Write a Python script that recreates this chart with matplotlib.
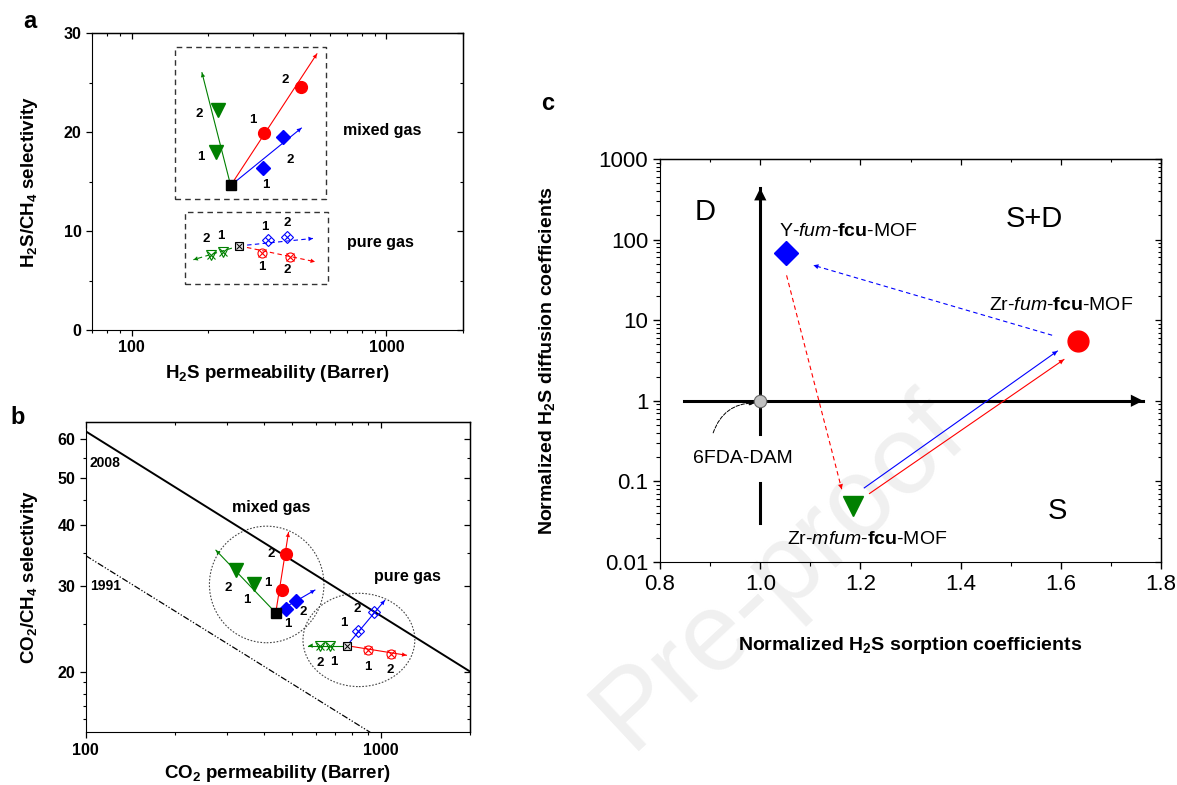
import matplotlib.pyplot as plt
from matplotlib.patches import Ellipse
from matplotlib.ticker import FixedLocator, NullFormatter, FuncFormatter, LogLocator, MultipleLocator

plt.rcParams['font.family'] = ['Liberation Sans', 'DejaVu Sans']
plt.rcParams['mathtext.fontset'] = 'custom'
plt.rcParams['mathtext.rm'] = 'Liberation Sans'
plt.rcParams['mathtext.it'] = 'Liberation Sans:italic'
plt.rcParams['mathtext.bf'] = 'Liberation Sans:bold'
plt.rcParams['mathtext.default'] = 'regular'

# ---------------- panel a : H2S/CH4 ----------------
a_mix_base = (245, 14.6)
a_mix_green_x, a_mix_green_y, a_mix_green_tip = [215, 219], [18.0, 22.2], (189, 26.0)
a_mix_red_x, a_mix_red_y, a_mix_red_tip = [331, 464], [19.9, 24.6], (534, 27.9)
a_mix_blue_x, a_mix_blue_y, a_mix_blue_tip = [327, 394], [16.4, 19.5], (464, 20.4)

a_pure_base = (265, 8.5)
a_pure_green_x, a_pure_green_y, a_pure_green_tip = [228, 205], [7.85, 7.6], (175, 7.1)
a_pure_red_x, a_pure_red_y, a_pure_red_tip = [324, 418], [7.75, 7.35], (525, 6.9)
a_pure_blue_x, a_pure_blue_y, a_pure_blue_tip = [344, 408], [9.1, 9.35], (515, 9.25)

a_box_mixed = ([148.5, 581, 581, 148.5, 148.5], [13.2, 13.2, 28.6, 28.6, 13.2])
a_box_pure = ([161.5, 593, 593, 161.5, 161.5], [4.65, 4.65, 11.9, 11.9, 4.65])

# ---------------- panel b : CO2/CH4 ----------------
b_mix_base = (440, 26.4)
b_mix_green_x, b_mix_green_y, b_mix_green_tip = [371, 323], [30.2, 32.3], (276, 35.5)
b_mix_red_x, b_mix_red_y, b_mix_red_tip = [463, 475], [29.4, 34.9], (486, 38.6)
b_mix_blue_x, b_mix_blue_y, b_mix_blue_tip = [475, 514], [26.9, 27.9], (597, 29.4)

b_pure_base = (766, 22.6)
b_pure_green_x, b_pure_green_y, b_pure_green_tip = [671, 621], [22.6, 22.6], (567, 22.6)
b_pure_red_x, b_pure_red_y, b_pure_red_tip = [901, 1084], [22.1, 21.7], (1219, 21.6)
b_pure_blue_x, b_pure_blue_y, b_pure_blue_tip = [835, 944], [24.2, 26.5], (1029, 28.0)

bound_2008_x, bound_2008_y = [100, 2000], [62.3, 20.0]
bound_1991_x, bound_1991_y = [100, 919], [34.6, 15.0]

# ---------------- panel c ----------------
mof_names = ['6FDA-DAM', 'Y-$\\mathit{fum}$-$\\mathbf{fcu}$-MOF',
             'Zr-$\\mathit{fum}$-$\\mathbf{fcu}$-MOF', 'Zr-$\\mathit{mfum}$-$\\mathbf{fcu}$-MOF']
mof_sorption = [1.0, 1.052, 1.635, 1.185]
mof_diffusion = [1.0, 68, 5.5, 0.049]
c_arrows = [  # x0, y0, x1, y1, colour, dashed
    (1.5825, 6.5, 1.106, 48, 'blue', True),
    (1.0525, 36, 1.1625, 0.080, 'red', True),
    (1.2075, 0.083, 1.593, 4.14, 'blue', False),
    (1.218, 0.0707, 1.606, 3.25, 'red', False),
]

fig = plt.figure(figsize=(11.77, 7.85), dpi=100)


def head(ax, p0, p1, color, ms=8):
    ax.annotate('', xy=p1, xytext=p0,
                arrowprops=dict(arrowstyle='-|>', color=color, lw=0, mutation_scale=ms,
                                shrinkA=0, shrinkB=0), zorder=4)


def series(ax, base, xs, ys, tip, color, marker, ms, pure, dashed, offs):
    ls = (0, (4, 3)) if dashed else '-'
    ax.plot([base[0], tip[0]], [base[1], tip[1]], color=color, lw=0.8, ls=ls, zorder=3)
    head(ax, base, tip, color)
    if pure:
        ax.plot(xs, ys, ls='none', marker=marker, ms=ms, mfc='none', mec=color, mew=0.8, zorder=5)
        ax.plot(xs, ys, ls='none', marker='x', ms=ms * 0.8, mec=color, mew=0.8, zorder=5)
    else:
        ax.plot(xs, ys, ls='none', marker=marker, ms=ms, color=color, zorder=5)
    for i, (x, y) in enumerate(zip(xs, ys)):
        ax.annotate(str(i + 1), xy=(x, y), xytext=(offs[i][0] * 0.72, offs[i][1] * 0.72),
                    textcoords='offset points', ha='center', va='center',
                    fontsize=9.5, fontweight='bold', zorder=6)


def base_marker(ax, base, pure):
    if pure:
        ax.plot(*base, marker='s', ms=6, mfc='#dddddd', mec='black', mew=0.8, zorder=6)
        ax.plot(*base, marker='x', ms=5, mec='black', mew=0.7, zorder=6)
    else:
        ax.plot(*base, marker='s', ms=7, color='black', zorder=6)


def mirror(ax, xmaj, ymaj, xmin, ymin):
    top = ax.secondary_xaxis('top')
    right = ax.secondary_yaxis('right')
    for sec, maj, mn in ((top.xaxis, xmaj, xmin), (right.yaxis, ymaj, ymin)):
        sec.set_major_locator(maj)
        sec.set_minor_locator(mn)
        sec.set_major_formatter(NullFormatter())
        sec.set_minor_formatter(NullFormatter())
    for s in (top, right):
        s.tick_params(which='major', direction='in', length=4, width=0.9)
        s.tick_params(which='minor', direction='in', length=2.5, width=0.8)
        for sp in s.spines.values():
            sp.set_linewidth(1.0)


# watermark
fig.text(780 / 1177, 1 - 572 / 785, 'Pre-proof', fontsize=80, color='#f0f0f0',
         rotation=43, ha='center', va='center', rotation_mode='anchor', zorder=-10)

# ======== panel a ========
ax = fig.add_axes([0.0782, 0.5796, 0.3152, 0.3783])
ax.set_xscale('log')
ax.set_xlim(70, 2000)
ax.set_ylim(0, 30)
ax.xaxis.set_major_locator(FixedLocator([100, 1000]))
ax.xaxis.set_minor_locator(LogLocator(base=10, subs=range(2, 10)))
ax.xaxis.set_major_formatter(FuncFormatter(lambda v, p: '%g' % v))
ax.xaxis.set_minor_formatter(NullFormatter())
ax.yaxis.set_major_locator(FixedLocator([0, 10, 20, 30]))
ax.yaxis.set_minor_locator(FixedLocator([5, 15, 25]))
ax.tick_params(which='major', direction='out', length=4, width=0.9, labelsize=11.5)
ax.tick_params(which='minor', direction='out', length=2.5, width=0.8)
for lab in ax.get_xticklabels() + ax.get_yticklabels():
    lab.set_fontweight('bold')
mirror(ax, FixedLocator([100, 1000]), FixedLocator([0, 10, 20, 30]),
       LogLocator(base=10, subs=range(2, 10)), FixedLocator([5, 15, 25]))

ax.plot(*a_box_mixed, color='#333333', lw=1.0, ls=(0, (4, 3)))
ax.plot(*a_box_pure, color='#333333', lw=1.0, ls=(0, (4, 3)))

series(ax, a_mix_base, a_mix_green_x, a_mix_green_y, a_mix_green_tip, 'green', 'v', 10, False, False,
       [(-15, -5), (-19, -4)])
series(ax, a_mix_base, a_mix_red_x, a_mix_red_y, a_mix_red_tip, 'red', 'o', 8.5, False, False,
       [(-11, 13), (-16, 7)])
series(ax, a_mix_base, a_mix_blue_x, a_mix_blue_y, a_mix_blue_tip, 'blue', 'D', 7.5, False, False,
       [(3, -17), (7, -23)])
base_marker(ax, a_mix_base, False)
series(ax, a_pure_base, a_pure_green_x, a_pure_green_y, a_pure_green_tip, 'green', 'v', 7, True, True,
       [(-2, 16), (-5, 16)])
series(ax, a_pure_base, a_pure_blue_x, a_pure_blue_y, a_pure_blue_tip, 'blue', 'D', 6, True, True,
       [(-3, 13), (0, 14)])
series(ax, a_pure_base, a_pure_red_x, a_pure_red_y, a_pure_red_tip, 'red', 'o', 6.5, True, True,
       [(0, -14), (-3, -13)])
base_marker(ax, a_pure_base, True)

ax.text(673, 20.2, 'mixed gas', fontsize=11.5, fontweight='bold', va='center')
ax.text(698, 8.8, 'pure gas', fontsize=11.5, fontweight='bold', va='center')
ax.set_xlabel('H$_2$S permeability (Barrer)', fontsize=13.5, fontweight='bold')
ax.set_ylabel('H$_2$S/CH$_4$ selectivity', fontsize=13.5, fontweight='bold')
ax.xaxis.set_label_coords(0.5, -0.11)
ax.yaxis.set_label_coords(-0.14, 0.5)
fig.text(30 / 1177, 1 - 22 / 785, 'a', fontsize=17, fontweight='bold', ha='center', va='center')

# ======== panel b ========
ax = fig.add_axes([0.0728, 0.0671, 0.3265, 0.3949])
ax.set_xscale('log')
ax.set_yscale('log')
ax.set_xlim(100, 2000)
ax.set_ylim(15, 65)
bymaj = [20, 30, 40, 50, 60]
bymin = [16, 17, 18, 19, 25, 35, 45, 55]
ax.xaxis.set_major_locator(FixedLocator([100, 1000]))
ax.xaxis.set_minor_locator(LogLocator(base=10, subs=range(2, 10)))
ax.xaxis.set_major_formatter(FuncFormatter(lambda v, p: '%g' % v))
ax.xaxis.set_minor_formatter(NullFormatter())
ax.yaxis.set_major_locator(FixedLocator(bymaj))
ax.yaxis.set_minor_locator(FixedLocator(bymin))
ax.yaxis.set_major_formatter(FuncFormatter(lambda v, p: '%g' % v))
ax.yaxis.set_minor_formatter(NullFormatter())
ax.tick_params(which='major', direction='out', length=4, width=0.9, labelsize=11.5)
ax.tick_params(which='minor', direction='out', length=2.5, width=0.8)
for lab in ax.get_xticklabels() + ax.get_yticklabels():
    lab.set_fontweight('bold')
mirror(ax, FixedLocator([100, 1000]), FixedLocator(bymaj),
       LogLocator(base=10, subs=range(2, 10)), FixedLocator(bymin))

ax.plot(bound_2008_x, bound_2008_y, color='black', lw=1.4)
ax.plot(bound_1991_x, bound_1991_y, color='black', lw=0.9, ls=(0, (5, 1.5, 1, 1.5, 1, 1.5)))
ax.text(103.4, 53.7, '2008', fontsize=10, fontweight='bold', va='center')
ax.text(103.4, 30.0, '1991', fontsize=10, fontweight='bold', va='center')

ax.add_patch(Ellipse((0.471, 0.477), 0.298, 0.376, transform=ax.transAxes, fill=False,
                     ls=(0, (1.5, 1.5)), lw=0.8, ec='#444444'))
ax.add_patch(Ellipse((0.711, 0.298), 0.291, 0.301, transform=ax.transAxes, fill=False,
                     ls=(0, (1.5, 1.5)), lw=0.8, ec='#444444'))

series(ax, b_mix_base, b_mix_green_x, b_mix_green_y, b_mix_green_tip, 'green', 'v', 10, False, False,
       [(-7, -16), (-8, -18)])
series(ax, b_mix_base, b_mix_red_x, b_mix_red_y, b_mix_red_tip, 'red', 'o', 8.5, False, False,
       [(-14, 7), (-14, 0)])
series(ax, b_mix_base, b_mix_blue_x, b_mix_blue_y, b_mix_blue_tip, 'blue', 'D', 7.5, False, False,
       [(2, -15), (8, -11)])
base_marker(ax, b_mix_base, False)
series(ax, b_pure_base, b_pure_green_x, b_pure_green_y, b_pure_green_tip, 'green', 'v', 7, True, False,
       [(4, -16), (0, -17)])
series(ax, b_pure_base, b_pure_blue_x, b_pure_blue_y, b_pure_blue_tip, 'blue', 'D', 6, True, False,
       [(-14, 8), (-16, 3)])
series(ax, b_pure_base, b_pure_red_x, b_pure_red_y, b_pure_red_tip, 'red', 'o', 6.5, True, False,
       [(0, -17), (-1, -16)])
base_marker(ax, b_pure_base, True)

ax.text(425, 43.5, 'mixed gas', fontsize=11.5, fontweight='bold', ha='center', va='center')
ax.text(944, 31.3, 'pure gas', fontsize=11.5, fontweight='bold', va='center')
ax.set_xlabel('CO$_2$ permeability (Barrer)', fontsize=13.5, fontweight='bold')
ax.set_ylabel('CO$_2$/CH$_4$ selectivity', fontsize=13.5, fontweight='bold')
ax.xaxis.set_label_coords(0.5, -0.10)
ax.yaxis.set_label_coords(-0.12, 0.5)
fig.text(18 / 1177, 1 - 417 / 785, 'b', fontsize=17, fontweight='bold', ha='center', va='center')

# ======== panel c ========
ax = fig.add_axes([0.5608, 0.2841, 0.4257, 0.5134])
ax.patch.set_alpha(0)
ax.set_yscale('log')
ax.set_xlim(0.8, 1.8)
ax.set_ylim(0.01, 1000)
ax.xaxis.set_major_locator(MultipleLocator(0.2))
ax.xaxis.set_minor_locator(MultipleLocator(0.1))
ax.xaxis.set_major_formatter(FuncFormatter(lambda v, p: '%.1f' % v))
ax.yaxis.set_major_locator(LogLocator(base=10, numticks=10))
ax.yaxis.set_minor_locator(LogLocator(base=10, subs=range(2, 10), numticks=10))
ax.yaxis.set_major_formatter(FuncFormatter(lambda v, p: '%g' % v))
ax.yaxis.set_minor_formatter(NullFormatter())
ax.tick_params(which='major', direction='out', length=5, width=1.0, labelsize=16)
ax.tick_params(which='minor', direction='out', length=3, width=0.8)
mirror(ax, MultipleLocator(0.2), LogLocator(base=10, numticks=10),
       MultipleLocator(0.1), LogLocator(base=10, subs=range(2, 10), numticks=10))

# quadrant axes
ax.plot([0.8475, 1.764], [1.0, 1.0], color='black', lw=2.2, zorder=2)
head(ax, (0.8475, 1.0), (1.764, 1.0), 'black', ms=22)
ax.plot([1.0, 1.0], [0.384, 434], color='black', lw=2.2, zorder=2)
head(ax, (1.0, 0.384), (1.0, 434), 'black', ms=22)
ax.plot([1.0, 1.0], [0.0303, 0.095], color='black', lw=2.2, zorder=2)

for x0, y0, x1, y1, col, dashed in c_arrows:
    ax.plot([x0, x1], [y0, y1], color=col, lw=0.8, ls=(0, (4, 3)) if dashed else '-', zorder=3)
    head(ax, (x0, y0), (x1, y1), col, ms=9)

ax.plot(mof_sorption[0], mof_diffusion[0], marker='o', ms=9, mfc='#c0c0c0', mec='#666666', mew=0.8, zorder=5)
ax.plot(mof_sorption[1], mof_diffusion[1], marker='D', ms=12, color='blue', zorder=5)
ax.plot(mof_sorption[2], mof_diffusion[2], marker='o', ms=15, color='red', zorder=5)
ax.plot(mof_sorption[3], mof_diffusion[3], marker='v', ms=15, color='green', zorder=5)

ax.annotate('', xy=(0.989, 0.94), xytext=(0.906, 0.40),
            arrowprops=dict(arrowstyle='-|>', color='black', lw=0.7, ls='--', mutation_scale=8,
                            connectionstyle='arc3,rad=-0.35', shrinkA=0, shrinkB=0))
ax.text(0.8667, 0.193, mof_names[0], fontsize=14, va='center')
ax.text(1.0375, 125, mof_names[1], fontsize=14, va='center')
ax.text(1.456, 15, mof_names[2], fontsize=14, va='center')
ax.text(1.053, 0.0189, mof_names[3], fontsize=14, va='center')

ax.text(0.889, 218, 'D', fontsize=21, ha='center', va='center')
ax.text(1.5475, 180, 'S+D', fontsize=21, ha='center', va='center')
ax.text(1.593, 0.043, 'S', fontsize=21, ha='center', va='center')

ax.set_xlabel('Normalized H$_2$S sorption coefficients', fontsize=14, fontweight='bold')
ax.set_ylabel('Normalized H$_2$S diffusion coefficients', fontsize=14, fontweight='bold')
ax.xaxis.set_label_coords(0.5, -0.18)
ax.yaxis.set_label_coords(-0.205, 0.5)
fig.text(548 / 1177, 1 - 103 / 785, 'c', fontsize=17, fontweight='bold', ha='center', va='center')

fig.savefig('out.png', dpi=100)
